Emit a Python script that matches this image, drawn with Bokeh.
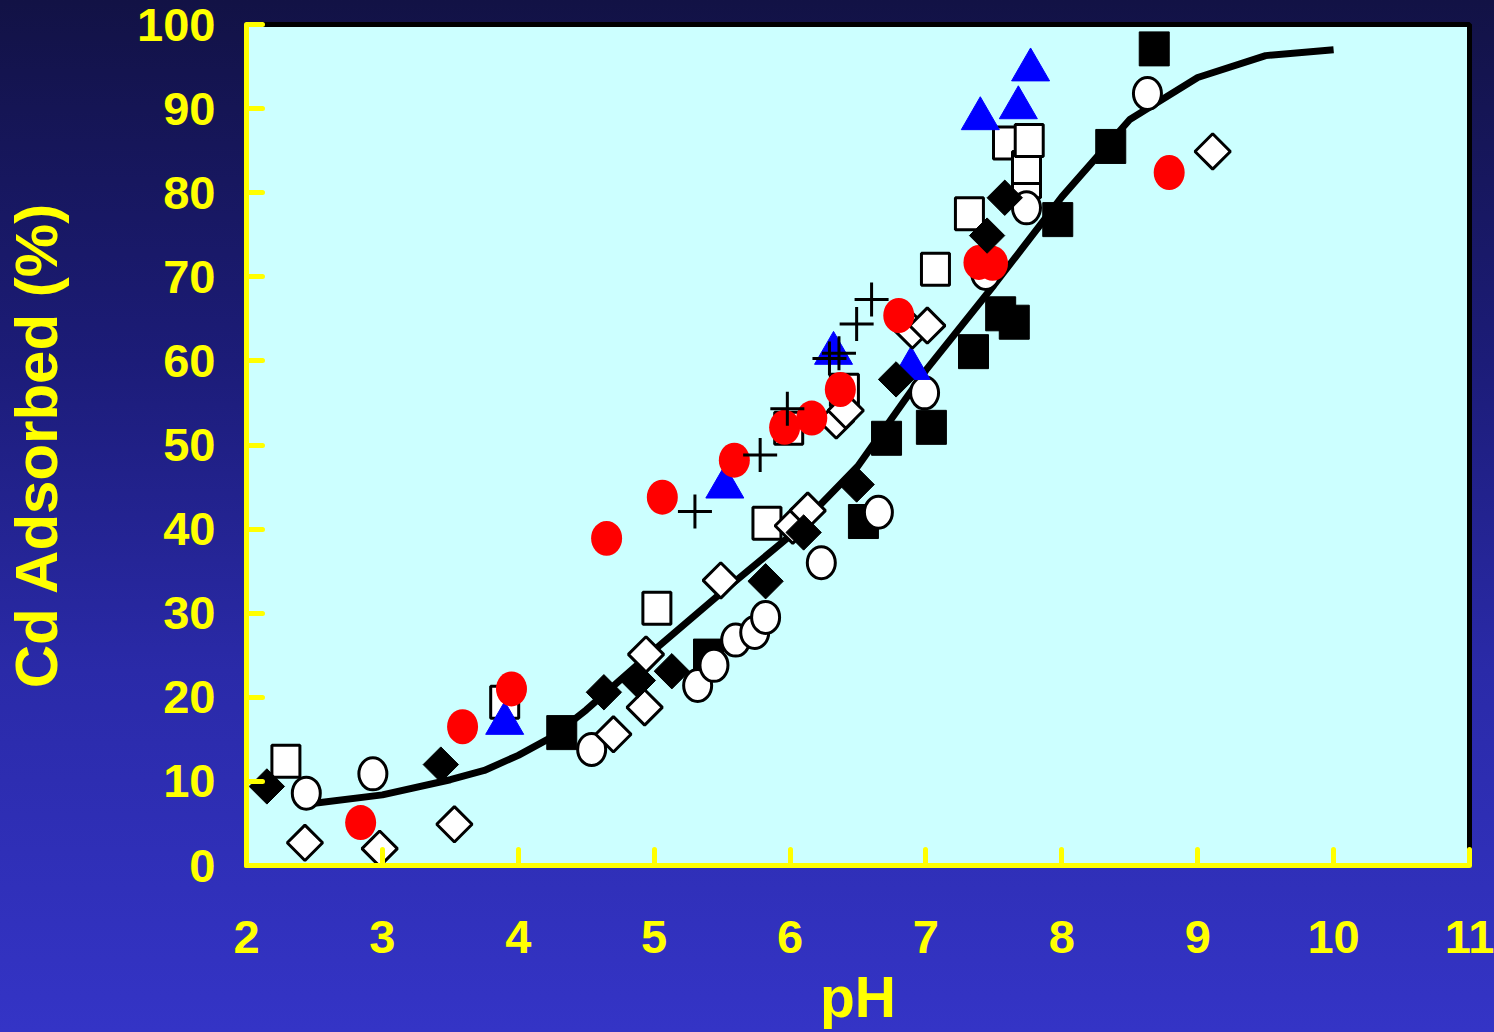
import numpy as np
from bokeh.plotting import figure
from bokeh.models import FixedTicker
from bokeh.embed import file_html
from bokeh.resources import INLINE

# ---------------- data ----------------
x_ticks = [2, 3, 4, 5, 6, 7, 8, 9, 10, 11]
y_ticks = [0, 10, 20, 30, 40, 50, 60, 70, 80, 90, 100]

curve_ph = [2.5, 3.0, 3.5, 3.75, 4.0, 4.25, 4.5, 5.0, 5.5, 6.0, 6.5, 7.0, 7.5, 8.0, 8.5, 9.0, 9.5, 10.0]
curve_cd = [7.4, 8.4, 10.2, 11.3, 13.1, 15.3, 18.5, 25.6, 32.5, 39.2, 47.5, 58.9, 69.0, 79.5, 88.7, 93.7, 96.3, 97.0]

fsq_ph = [4.32, 5.40, 6.54, 6.71, 7.04, 7.35, 7.55, 7.65, 7.97, 8.36, 8.68]
fsq_cd = [15.8, 24.9, 40.9, 50.8, 52.1, 61.1, 65.6, 64.6, 76.8, 85.5, 97.1]

osq_ph = [2.29, 3.90, 5.02, 5.83, 5.99, 6.40, 7.07, 7.32, 7.60, 7.74, 7.74, 7.76]
osq_cd = [12.4, 19.4, 30.6, 40.7, 52.0, 56.5, 70.9, 77.5, 85.9, 81.3, 83.0, 86.2]

fdi_ph = [2.15, 3.43, 4.63, 4.88, 5.13, 5.82, 6.10, 6.49, 6.78, 7.45, 7.58]
fdi_cd = [9.4, 12.0, 20.6, 22.0, 23.1, 33.8, 39.6, 45.3, 57.8, 74.9, 79.4]

odi_ph = [2.43, 2.98, 3.53, 4.70, 4.93, 4.94, 5.49, 6.02, 6.13, 6.34, 6.41, 6.90, 7.01, 9.11]
odi_cd = [2.7, 2.0, 4.9, 15.6, 18.8, 25.1, 33.9, 40.4, 42.2, 52.9, 54.1, 63.6, 64.2, 84.9]

oci_ph = [2.44, 2.93, 4.54, 5.32, 5.44, 5.60, 5.74, 5.82, 6.23, 6.65, 6.99, 7.44, 7.74, 8.63]
oci_cd = [8.6, 10.9, 13.8, 21.4, 23.8, 26.8, 27.7, 29.5, 36.0, 42.0, 56.2, 70.4, 78.2, 91.8]

red_ph = [2.84, 3.59, 3.95, 4.65, 5.06, 5.59, 5.96, 6.16, 6.37, 6.80, 7.39, 7.49, 8.79]
red_cd = [5.1, 16.5, 21.0, 38.9, 43.8, 48.2, 52.1, 53.2, 56.6, 65.4, 71.7, 71.6, 82.4]

tri_ph = [3.90, 5.52, 6.32, 6.89, 7.40, 7.68, 7.77]
tri_cd = [16.9, 45.0, 60.9, 59.1, 88.8, 90.1, 94.6]

crs_ph = [5.30, 5.78, 5.98, 6.29, 6.36, 6.49, 6.60]
crs_cd = [42.1, 48.8, 54.3, 60.3, 60.9, 64.4, 67.3]

# ---------------- figure ----------------
YEL = "#ffff00"

p = figure(width=1494, height=1032, x_range=(2, 11), y_range=(0, 100),
           output_backend="svg", toolbar_location=None,
           min_border_left=243, min_border_right=25,
           min_border_top=24, min_border_bottom=167,
           background_fill_color="#ccffff",
           border_fill_color=None, border_fill_alpha=0,
           outline_line_color="black", outline_line_width=5,
           styles={"background": "linear-gradient(to bottom, #121245 0%, #1c1c78 35%, #2a2aa8 65%, #3434c6 100%)"})

p.xgrid.visible = False
p.ygrid.visible = False

for ax, ticks in ((p.xaxis, x_ticks), (p.yaxis, y_ticks)):
    ax.ticker = FixedTicker(ticks=ticks)
    ax.axis_line_color = YEL
    ax.axis_line_width = 5
    ax.major_tick_line_color = YEL
    ax.major_tick_line_width = 5
    ax.major_tick_line_cap = "round"
    ax.major_tick_in = 16
    ax.major_tick_out = 0
    ax.minor_tick_line_color = None
    ax.major_label_text_color = YEL
    ax.major_label_text_font = "Liberation Sans"
    ax.major_label_text_font_style = "bold"
    ax.major_label_text_font_size = "47px"
    ax.axis_label_text_color = YEL
    ax.axis_label_text_font = "Liberation Sans"
    ax.axis_label_text_font_style = "bold"

p.yaxis.major_label_standoff = 31
p.xaxis.major_label_standoff = 55

p.xaxis.axis_label = "pH"
p.xaxis.axis_label_text_font_size = "57px"
p.xaxis.axis_label_standoff = 9

p.yaxis.axis_label = "Cd Adsorbed (%)"
p.yaxis.axis_label_text_font_size = "60px"
p.yaxis.axis_label_standoff = 64

# model curve
p.line(curve_ph, curve_cd, line_color="black", line_width=7)

# filled squares
p.rect(fsq_ph, fsq_cd, width=30, height=34, width_units="screen", height_units="screen",
       fill_color="black", line_color="black", line_width=1)
# open squares
p.rect(osq_ph, osq_cd, width=28, height=32, width_units="screen", height_units="screen",
       fill_color="white", line_color="black", line_width=3)
# open circles
p.ellipse(oci_ph, oci_cd, width=28, height=32, width_units="screen", height_units="screen",
          fill_color="white", line_color="black", line_width=3)
# blue triangles
p.scatter(tri_ph, tri_cd, marker="triangle", size=38, fill_color="#0000ff", line_color="#0000ff")
# open diamonds
p.scatter(odi_ph, odi_cd, marker="square", angle=np.pi / 4, size=25,
          fill_color="white", line_color="black", line_width=3)
# red circles
p.ellipse(red_ph, red_cd, width=31, height=35, width_units="screen", height_units="screen",
          fill_color="#ff0000", line_color=None)
# filled diamonds
p.scatter(fdi_ph, fdi_cd, marker="square", angle=np.pi / 4, size=25,
          fill_color="black", line_color="black")
# crosses
p.scatter(crs_ph, crs_cd, marker="cross", size=34, line_color="black", line_width=3)

open("out.html", "w").write(file_html(p, INLINE))
